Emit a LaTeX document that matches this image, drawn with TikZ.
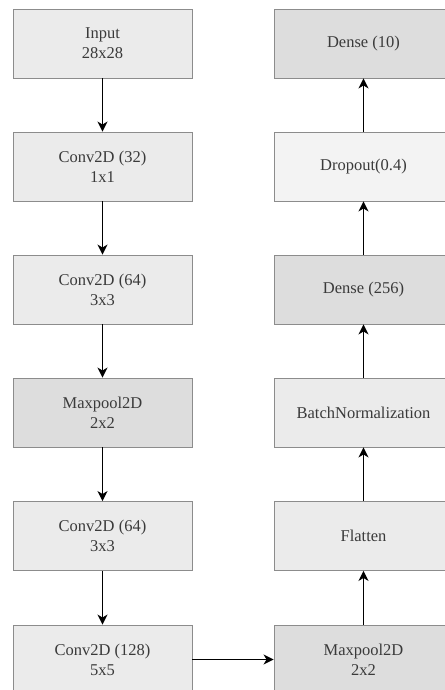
\documentclass[tikz,border=0pt]{standalone}
\usepackage{fontspec}
\setmainfont{Liberation Serif}
\usetikzlibrary{arrows.meta}
\definecolor{lightbox}{HTML}{EBEBEB}
\definecolor{darkbox}{HTML}{DDDDDD}
\definecolor{textgray}{HTML}{3A3A3A}
\begin{document}
\begin{tikzpicture}[x=1pt,y=-1pt,
        layer/.style={draw=black!45, line width=0.9pt, fill=lightbox, minimum width=179pt,
            minimum height=69pt, inner sep=0pt, align=center, text=textgray,
            font=\fontsize{16.5}{20}\selectfont},
        darklayer/.style={layer, fill=darkbox},
        flow/.style={-{Stealth[length=10pt,width=10pt,inset=3pt]}, line width=1.2pt}]
            \useasboundingbox (0,0) rectangle (444,690);
            \fill[white] (0,0) rectangle (444,690);

            \node[layer] (input) at (102.5,43.5) {Input\\28x28};
            \node[layer] (convA) at (102.5,166.5) {Conv2D (32)\\1x1};
            \node[layer] (convB) at (102.5,289.5) {Conv2D (64)\\3x3};
            \node[darklayer] (poolA) at (102.5,412.5) {Maxpool2D\\2x2};
            \node[layer] (convC) at (102.5,536) {Conv2D (64)\\3x3};
            \node[layer] (convD) at (102.5,659.5) {Conv2D (128)\\5x5};

            \node[darklayer] (poolB) at (363.5,659.5) {Maxpool2D\\2x2};
            \node[layer] (flat) at (363.5,536) {Flatten};
            \node[layer] (bnorm) at (363.5,412.5) {BatchNormalization};
            \node[darklayer] (denseA) at (363.5,289.5) {Dense (256)};
            \node[layer, fill=lightbox!60!white] (drop) at (363.5,166.5) {Dropout(0.4)};
            \node[darklayer] (denseB) at (363.5,43.5) {Dense (10)};

            \draw[flow] (input)--(convA);
            \draw[flow] (convA)--(convB);
            \draw[flow] (convB)--(poolA);
            \draw[flow] (poolA)--(convC);
            \draw[flow] (convC)--(convD);
            \draw[flow] (convD)--(poolB);
            \draw[flow] (poolB)--(flat);
            \draw[flow] (flat)--(bnorm);
            \draw[flow] (bnorm)--(denseA);
            \draw[flow] (denseA)--(drop);
            \draw[flow] (drop)--(denseB);

        \end{tikzpicture}
\end{document}
